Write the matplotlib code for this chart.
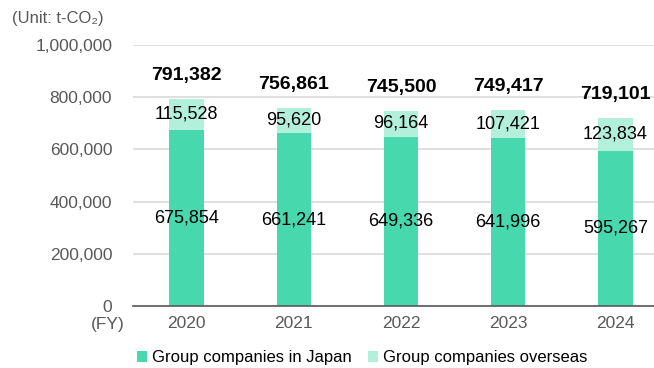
import numpy as np
import matplotlib.pyplot as plt

plt.rcParams['font.family'] = ['Liberation Sans', 'DejaVu Sans']

years = ['2020', '2021', '2022', '2023', '2024']
japan = [675854, 661241, 649336, 641996, 595267]
overseas = [115528, 95620, 96164, 107421, 123834]
totals = [791382, 756861, 745500, 749417, 719101]

c_japan = '#48d8ae'
c_over = '#b3f0dc'
grey = '#595959'

fig = plt.figure(figsize=(6.54, 3.68), dpi=100)
ax = fig.add_axes([0.2034, 0.1685, 0.7966, 0.7092])

x = np.arange(len(years))
w = 0.32
ax.bar(x, japan, w, color=c_japan, zorder=3, label='Group companies in Japan')
ax.bar(x, overseas, w, bottom=japan, color=c_over, zorder=3,
       label='Group companies overseas')

for i in range(len(years)):
    ax.text(x[i], japan[i] / 2, f'{japan[i]:,}', ha='center', va='center',
            fontsize=13, color='black', zorder=4)
    ax.text(x[i], japan[i] + overseas[i] / 2 + 2000, f'{overseas[i]:,}',
            ha='center', va='center', fontsize=13, color='black', zorder=4)
    ax.annotate(f'{totals[i]:,}', (x[i], totals[i]), xytext=(0, 11),
                textcoords='offset points', ha='center', va='bottom',
                fontsize=14, fontweight='bold', color='black')

ax.set_ylim(0, 1000000)
ax.set_xlim(-0.5, 4.36)
ax.set_yticks(np.arange(0, 1000001, 200000))
ax.yaxis.set_major_formatter(plt.FuncFormatter(lambda v, p: f'{int(v):,}'))
ax.set_xticks(x)
ax.set_xticklabels(years)
ax.tick_params(axis='both', length=0, labelsize=12.5, colors=grey)
ax.tick_params(axis='y', pad=15)
ax.tick_params(axis='x', pad=7)
ax.grid(axis='y', color='#d9d9d9', linewidth=1.2, zorder=0)
for s in ['top', 'right', 'left']:
    ax.spines[s].set_visible(False)
ax.spines['bottom'].set_color(grey)
ax.spines['bottom'].set_linewidth(1.2)
ax.spines['bottom'].set_zorder(5)

fig.text(0.018, 0.951, '(Unit: t-CO\u2082)', fontsize=12, color=grey,
         ha='left', va='center')
fig.text(0.190, 0.117, '(FY)', fontsize=12.5, color=grey, ha='right', va='center')

fig.legend(loc='center', bbox_to_anchor=(0.554, 0.028), ncol=2, frameon=False,
           fontsize=12, handlelength=0.6, handleheight=0.6, handletextpad=0.3,
           columnspacing=1.0)

fig.savefig('out.png', dpi=100)
